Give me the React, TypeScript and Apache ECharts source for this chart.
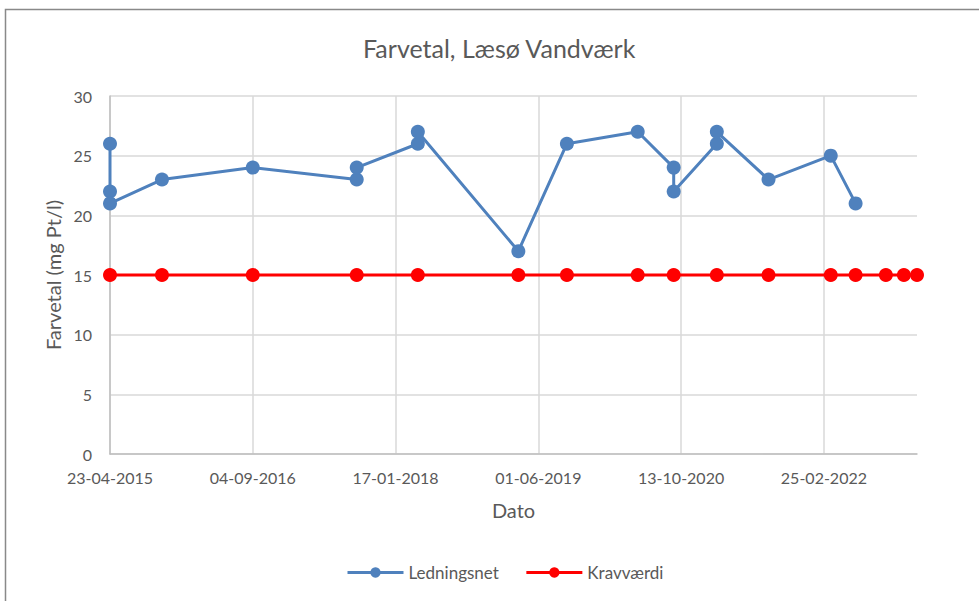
import React, { useEffect, useRef } from "react";
import * as echarts from "echarts";

const baseDate = "2015-04-23";
const axisMaxDate = "2023-01-17";
const xTickIntervalDays = 500;

const ledningsnetDates = [
  "2015-04-23", "2015-04-23", "2015-04-23", "2015-10-22", "2016-09-04",
  "2017-09-03", "2017-09-03", "2018-04-05", "2018-04-05", "2019-03-23",
  "2019-09-09", "2020-05-14", "2020-09-17", "2020-09-17", "2021-02-15",
  "2021-02-15", "2021-08-15", "2022-03-21", "2022-06-16",
];
const ledningsnetValues = [26, 22, 21, 23, 24, 23, 24, 26, 27, 17, 26, 27, 24, 22, 26, 27, 23, 25, 21];

const kravDates = [
  "2015-04-23", "2015-10-22", "2016-09-04", "2017-09-03", "2018-04-05",
  "2019-03-23", "2019-09-09", "2020-05-14", "2020-09-17", "2021-02-15",
  "2021-08-15", "2022-03-21", "2022-06-16", "2022-09-30", "2022-12-02",
  "2023-01-17",
];
const kravValues = [15, 15, 15, 15, 15, 15, 15, 15, 15, 15, 15, 15, 15, 15, 15, 15];

const DAY = 86400000;
const toUTC = (s: string) => {
  const [y, m, d] = s.split("-").map(Number);
  return Date.UTC(y, m - 1, d);
};
const dayOffset = (s: string) => Math.round((toUTC(s) - toUTC(baseDate)) / DAY);
const fmt = (days: number) => {
  const d = new Date(toUTC(baseDate) + days * DAY);
  const dd = String(d.getUTCDate()).padStart(2, "0");
  const mm = String(d.getUTCMonth() + 1).padStart(2, "0");
  return `${dd}-${mm}-${d.getUTCFullYear()}`;
};

const FONT = "Lato";
const TXT = "#595959";

export default function App() {
  const ref = useRef<HTMLDivElement>(null);
  useEffect(() => {
    if (!ref.current) return;
    const chart = echarts.init(ref.current, undefined, { renderer: "svg" });
    const xMax = dayOffset(axisMaxDate);
    const nLines = Math.floor(xMax / xTickIntervalDays) + 1;
    const splitColors = Array.from({ length: nLines }, () => "#d9d9d9");
    splitColors.push("rgba(0,0,0,0)");
    chart.setOption({
      animation: false,
      backgroundColor: "#ffffff",
      textStyle: { fontFamily: FONT },
      graphic: [
        {
          type: "rect",
          shape: { x: 5.5, y: 9.5, width: 1000, height: 700 },
          style: { fill: "none", stroke: "#898989", lineWidth: 1.5 },
          silent: true,
        },
      ],
      title: {
        text: "Farvetal, Læsø Vandværk",
        left: 358,
        top: 30,
        textStyle: { fontFamily: FONT, fontSize: 25, fontWeight: "normal", color: TXT },
      },
      legend: {
        bottom: 15,
        left: 341,
        itemWidth: 56,
        itemHeight: 13,
        itemGap: 26,
        lineStyle: { width: 3 },
        textStyle: { fontFamily: FONT, fontSize: 17, color: TXT },
        data: ["Ledningsnet", "Kravværdi"],
      },
      grid: { left: 110, right: 62, top: 96, bottom: 147 },
      xAxis: {
        type: "value",
        min: 0,
        max: xMax,
        interval: xTickIntervalDays,
        name: "Dato",
        nameLocation: "middle",
        nameGap: 46,
        nameTextStyle: { fontFamily: FONT, fontSize: 20, color: TXT },
        axisLine: { show: true, lineStyle: { color: "#bfbfbf", width: 1.5 } },
        axisTick: { show: false },
        axisLabel: {
          formatter: (v: number) => fmt(v),
          showMaxLabel: false,
          margin: 15,
          fontFamily: FONT,
          fontSize: 16,
          color: TXT,
        },
        splitLine: { show: true, lineStyle: { color: splitColors, width: 1.5 } },
      },
      yAxis: {
        type: "value",
        min: 0,
        max: 30,
        interval: 5,
        name: "Farvetal (mg Pt/l)",
        nameLocation: "middle",
        nameGap: 44,
        nameTextStyle: { fontFamily: FONT, fontSize: 20, color: TXT },
        axisLine: { show: true, lineStyle: { color: "#bfbfbf", width: 1.5 } },
        axisTick: { show: false },
        axisLabel: { margin: 18, fontFamily: FONT, fontSize: 16, color: TXT },
        splitLine: { show: true, lineStyle: { color: "#d9d9d9", width: 1.5 } },
      },
      series: [
        {
          name: "Ledningsnet",
          type: "line",
          data: ledningsnetDates.map((d, i) => [dayOffset(d), ledningsnetValues[i]]),
          symbol: "circle",
          symbolSize: 14,
          lineStyle: { color: "#4f81bd", width: 3 },
          itemStyle: { color: "#4f81bd" },
          z: 3,
        },
        {
          name: "Kravværdi",
          type: "line",
          data: kravDates.map((d, i) => [dayOffset(d), kravValues[i]]),
          symbol: "circle",
          symbolSize: 14,
          lineStyle: { color: "#ff0000", width: 3 },
          itemStyle: { color: "#ff0000" },
          z: 3,
        },
      ],
    });
    return () => chart.dispose();
  }, []);
  return (
    <div
      ref={ref}
      style={{ position: "absolute", left: 0, top: 0, width: 979, height: 601 }}
    />
  );
}
